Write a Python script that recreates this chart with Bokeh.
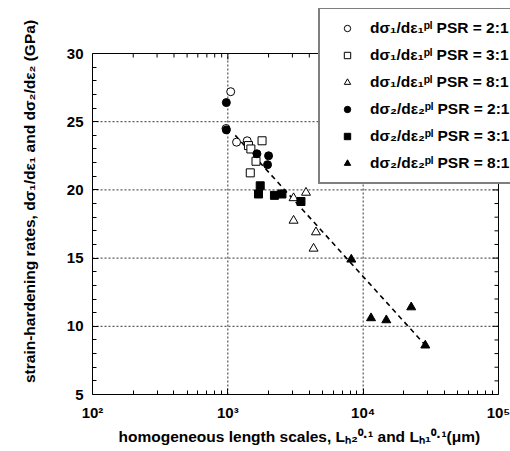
import math
from bokeh.plotting import figure
from bokeh.models import Legend, LegendItem, FixedTicker
from bokeh.embed import file_html
from bokeh.resources import INLINE

# ---- data ----
open_circle_x = [1050, 970, 1160, 1390]
open_circle_y = [27.2, 24.5, 23.5, 23.6]

filled_circle_x = [975, 975, 1640, 2000, 1965]
filled_circle_y = [26.4, 24.4, 22.65, 22.5, 21.85]

open_square_x = [1790, 1420, 1480, 1615, 1465]
open_square_y = [23.6, 23.25, 23.0, 22.1, 21.25]

filled_square_x = [1735, 1685, 2210, 2510, 3470]
filled_square_y = [20.3, 19.7, 19.6, 19.7, 19.15]

open_tri_x = [3060, 3780, 3060, 4480, 4300]
open_tri_y = [19.4, 19.8, 17.75, 16.9, 15.7]

filled_tri_x = [8170, 11430, 14830, 22650, 28780]
filled_tri_y = [14.9, 10.6, 10.45, 11.4, 8.6]

fit_x = [1135, 29800]
fit_y = [24.0, 8.45]

legend_labels = [
    "d\u03c3\u2081/d\u03b5\u2081\u1d56\u02e1 PSR = 2:1",
    "d\u03c3\u2081/d\u03b5\u2081\u1d56\u02e1 PSR = 3:1",
    "d\u03c3\u2081/d\u03b5\u2081\u1d56\u02e1 PSR = 8:1",
    "d\u03c3\u2082/d\u03b5\u2082\u1d56\u02e1 PSR = 2:1",
    "d\u03c3\u2082/d\u03b5\u2082\u1d56\u02e1 PSR = 3:1",
    "d\u03c3\u2082/d\u03b5\u2082\u1d56\u02e1 PSR = 8:1",
]

x_ticks = [100, 1000, 10000, 100000]
x_tick_labels = ["10\u00b2", "10\u00b3", "10\u2074", "10\u2075"]
y_ticks = [5, 10, 15, 20, 25, 30]

x_label = "homogeneous length scales, L\u2095\u2082\u2070\u00b7\u00b9 and  L\u2095\u2081\u2070\u00b7\u00b9(\u03bcm)"
y_label = "strain-hardening rates, d\u03c3\u2081/d\u03b5\u2081 and d\u03c3\u2082/d\u03b5\u2082 (GPa)"

FONT = "Liberation Sans"

# ---- layout geometry (pixels) ----
W, H = 510, 451
B_LEFT, B_RIGHT, B_TOP, B_BOTTOM = 92, 0, 8, 57
BOX_W, BOX_H = 406, 341          # size of the visible axes box
frame_w = W - B_LEFT - B_RIGHT
frame_h = H - B_TOP - B_BOTTOM

x0, x1 = x_ticks[0], x_ticks[-1]
y0, y1 = y_ticks[0], y_ticks[-1]
dec = math.log10(x1) - math.log10(x0)
x_end = 10 ** (math.log10(x0) + dec * frame_w / BOX_W)
y_end = y0 + (y1 - y0) * frame_h / BOX_H

p = figure(width=W, height=H, x_axis_type="log", x_range=(x0, x_end), y_range=(y0, y_end),
           output_backend="svg", toolbar_location=None,
           min_border_left=B_LEFT, min_border_right=B_RIGHT,
           min_border_top=B_TOP, min_border_bottom=B_BOTTOM)
p.outline_line_color = None
p.background_fill_color = "white"
p.border_fill_color = "white"
p.xgrid.visible = False
p.ygrid.visible = False

x_minor = [m * 10 ** e for e in range(2, 5) for m in range(2, 10)]
y_minor = [v for v in range(y0, y1 + 1) if v not in y_ticks]
xticker = FixedTicker(ticks=x_ticks, minor_ticks=x_minor)
yticker = FixedTicker(ticks=y_ticks, minor_ticks=y_minor)

def style_axis(ax):
    ax.axis_line_color = "black"
    ax.axis_line_width = 1
    ax.major_tick_in = 6
    ax.major_tick_out = 0
    ax.minor_tick_in = 4
    ax.minor_tick_out = 0
    ax.major_tick_line_color = "black"
    ax.minor_tick_line_color = "black"
    ax.major_label_text_font = FONT
    ax.major_label_text_font_style = "bold"
    ax.major_label_text_font_size = "15px"
    ax.major_label_text_color = "black"
    ax.axis_label_text_font = FONT
    ax.axis_label_text_font_style = "bold"
    ax.axis_label_text_font_size = "15.5px"
    ax.axis_label_text_color = "black"

xa = p.xaxis[0]
xa.ticker = xticker
xa.bounds = (x0, x1)
xa.major_label_overrides = dict(zip(x_ticks, x_tick_labels))
style_axis(xa)
xa.axis_label = x_label
xa.major_label_standoff = 9
xa.axis_label_standoff = 4

ya = p.yaxis[0]
ya.ticker = yticker
ya.bounds = (y0, y1)
style_axis(ya)
ya.axis_label = y_label
ya.major_label_standoff = 9
ya.axis_label_standoff = 26

# grid lines (dotted) inside the axes box
inner_x = x_ticks[1:-1]
inner_y = y_ticks[1:-1]
p.segment(x0=inner_x, y0=[y0] * len(inner_x), x1=inner_x, y1=[y1] * len(inner_x),
          line_color="black", line_dash="2 2", line_width=1, line_alpha=0.8)
p.segment(x0=[x0] * len(inner_y), y0=inner_y, x1=[x1] * len(inner_y), y1=inner_y,
          line_color="black", line_dash="2 2", line_width=1, line_alpha=0.8)

# top and right edges of the box, with inward ticks
p.line([x0, x1, x1], [y1, y1, y0], line_color="black", line_width=1)
p.ray(x=x_minor, y=[y1] * len(x_minor), length=4, length_units="screen",
      angle=-math.pi / 2, line_color="black", line_width=1)
p.ray(x=x_ticks, y=[y1] * len(x_ticks), length=6, length_units="screen",
      angle=-math.pi / 2, line_color="black", line_width=1)
p.ray(x=[x1] * len(y_minor), y=y_minor, length=4, length_units="screen",
      angle=math.pi, line_color="black", line_width=1)
p.ray(x=[x1] * len(y_ticks), y=y_ticks, length=6, length_units="screen",
      angle=math.pi, line_color="black", line_width=1)

p.line(fit_x, fit_y, line_color="black", line_width=1.6, line_dash="5 4")

r1 = p.scatter(open_circle_x, open_circle_y, marker="circle", size=8,
               fill_color="white", line_color="black", line_width=1)
r2 = p.scatter(open_square_x, open_square_y, marker="square", size=8,
               fill_color="white", line_color="black", line_width=1)
r3 = p.scatter(open_tri_x, open_tri_y, marker="triangle", size=9,
               fill_color="white", line_color="black", line_width=1)
r4 = p.scatter(filled_circle_x, filled_circle_y, marker="circle", size=8,
               fill_color="black", line_color="black", line_width=1)
r5 = p.scatter(filled_square_x, filled_square_y, marker="square", size=8,
               fill_color="black", line_color="black", line_width=1)
r6 = p.scatter(filled_tri_x, filled_tri_y, marker="triangle", size=9,
               fill_color="black", line_color="black", line_width=1)

items = [LegendItem(label=lab, renderers=[r]) for lab, r in
         zip(legend_labels, [r1, r2, r3, r4, r5, r6])]
legend = Legend(items=items, location=(226, 210 - (H - B_BOTTOM - 394)),
                border_line_color="black", border_line_width=2,
                background_fill_color="white", background_fill_alpha=1,
                padding=7, spacing=3, margin=0,
                glyph_height=16, glyph_width=40, label_height=24,
                label_standoff=3,
                label_text_font=FONT, label_text_font_style="bold",
                label_text_font_size="15.5px", label_text_color="black")
p.add_layout(legend)

open("out.html", "w").write(file_html(p, INLINE))
